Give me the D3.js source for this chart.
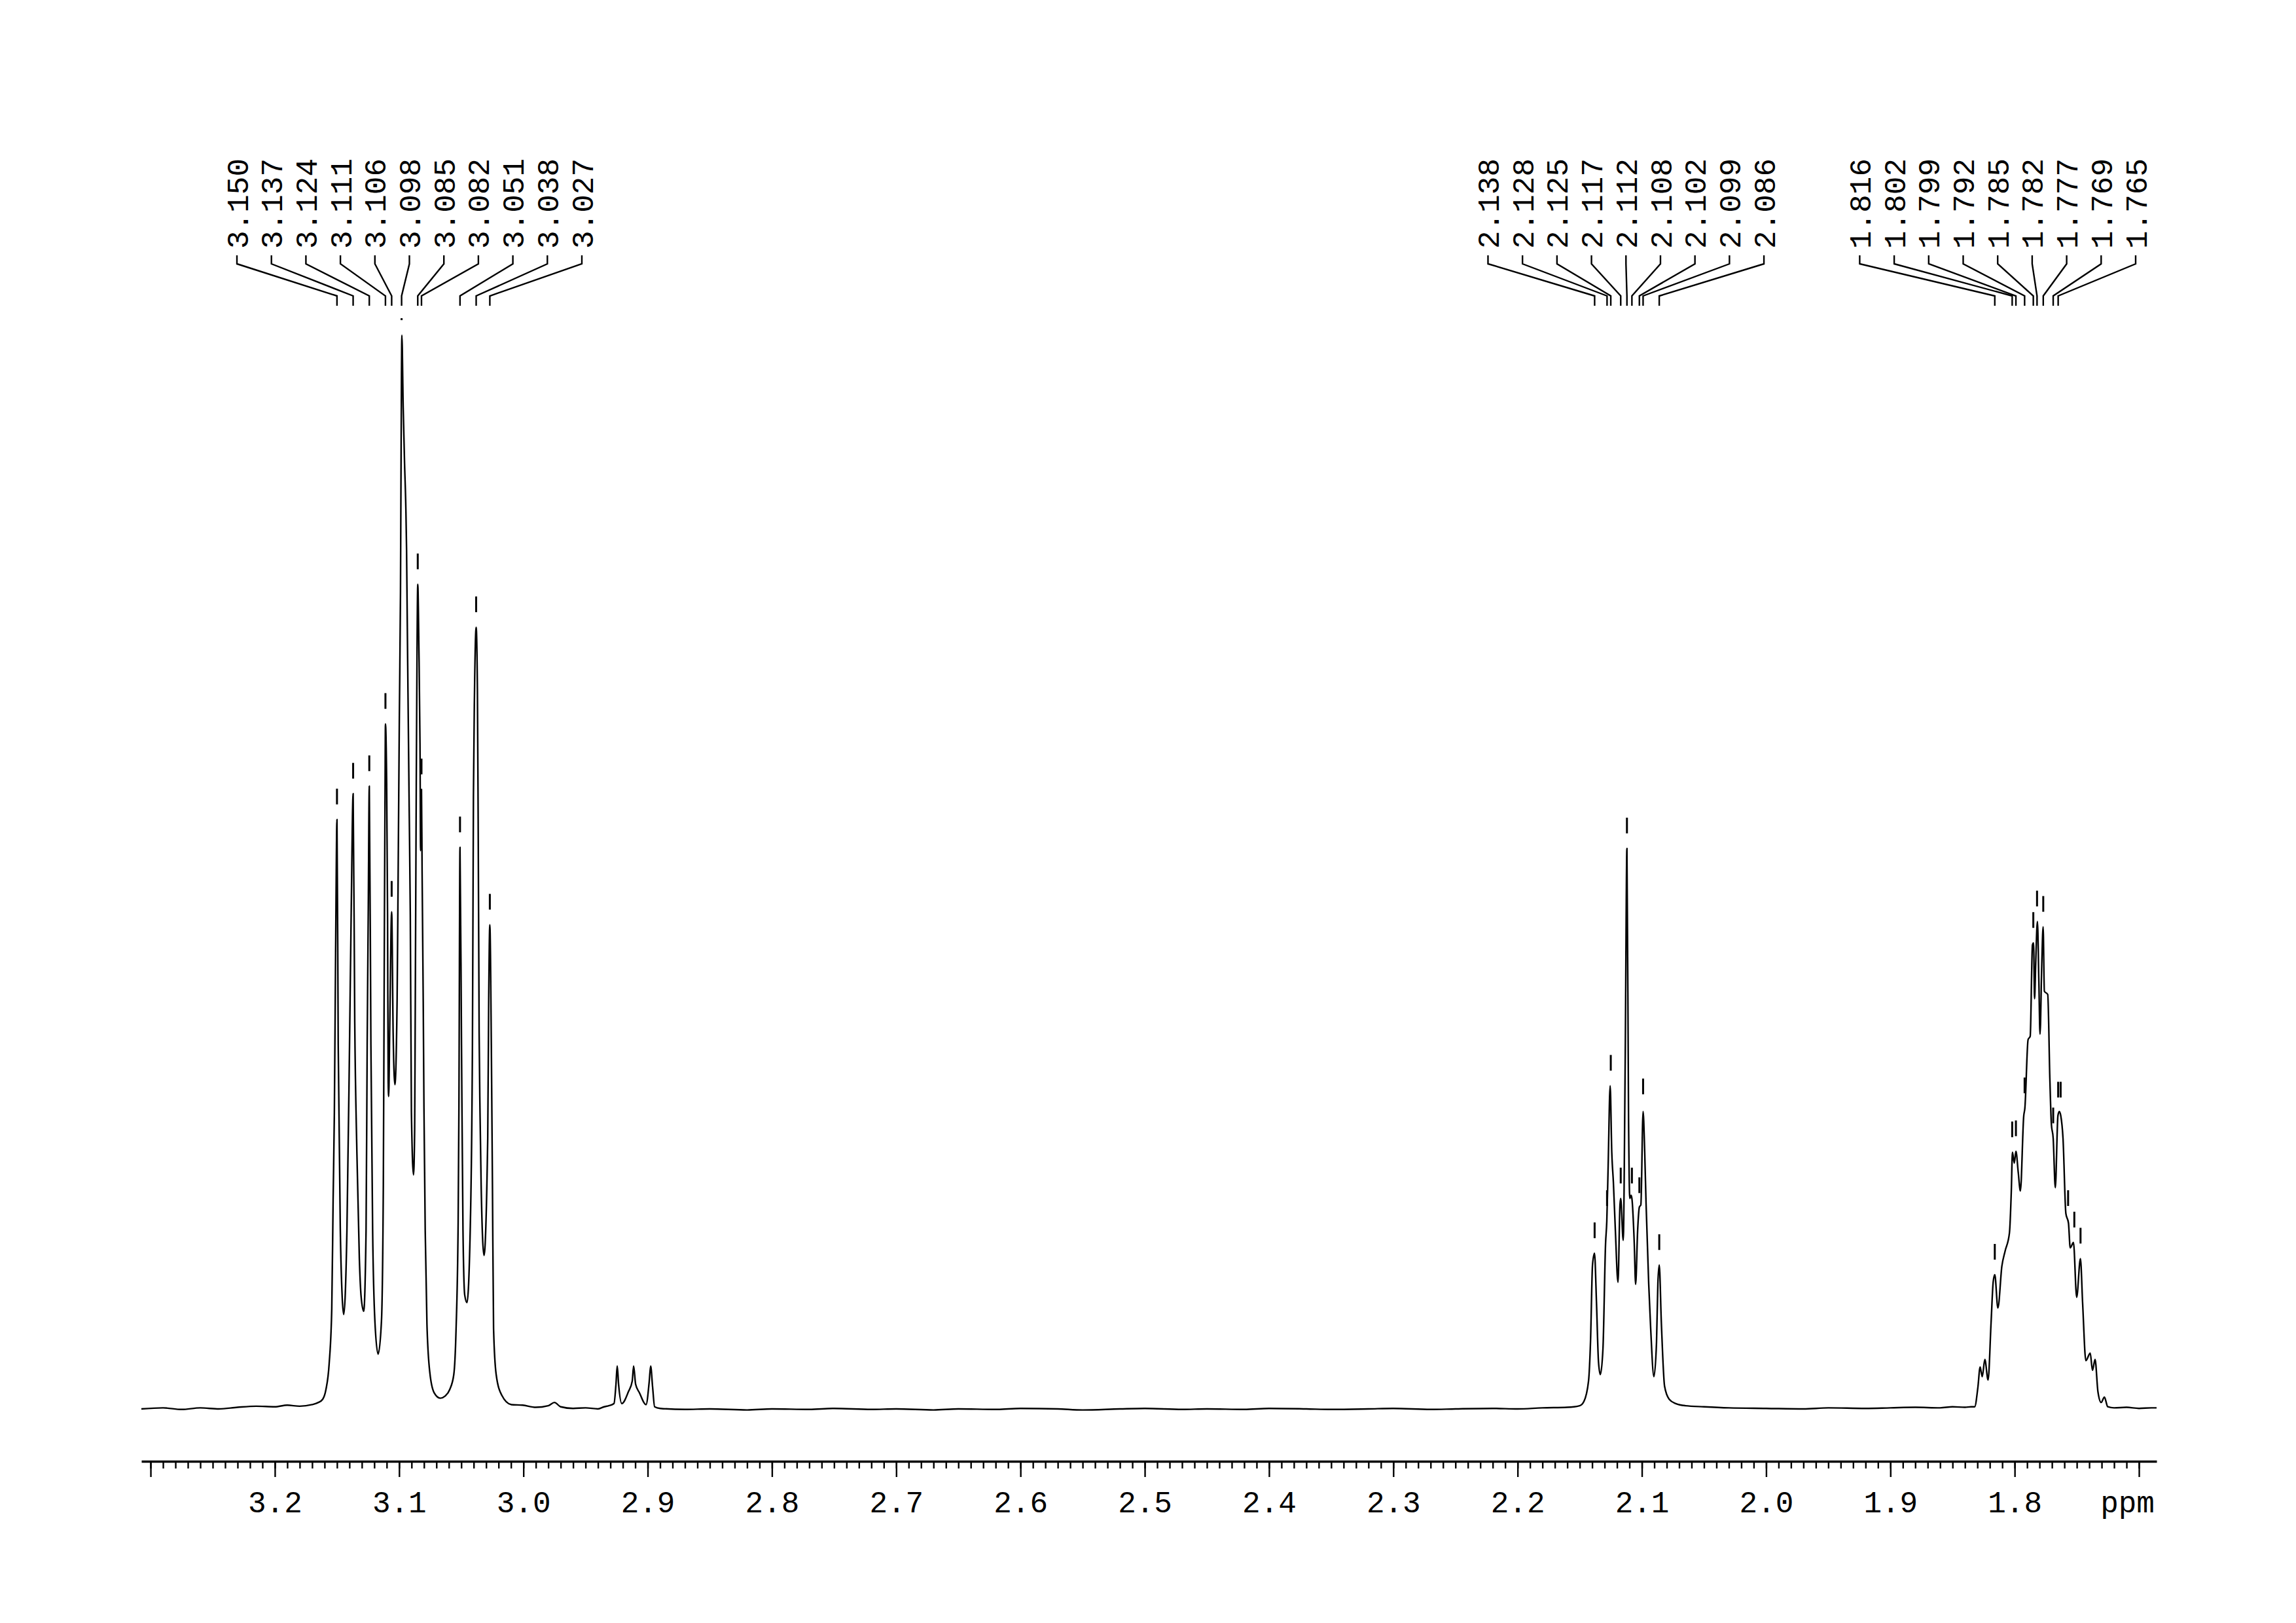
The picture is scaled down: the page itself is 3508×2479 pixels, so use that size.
<!DOCTYPE html>
<html>
<head>
<meta charset="utf-8">
<script src="https://cdn.jsdelivr.net/npm/d3@7"></script>
<style>
  html, body { margin: 0; background: #fff; }
</style>
</head>
<body>
<svg id="chart" width="3508" height="2479"></svg>
<script>

// ---- data: [ppm, intensity], tallest peak = 100 ----

var baseLeft = [
  [3.3074, 0.0], [3.29, 0.1], [3.275, -0.05], [3.26, 0.1], [3.245, 0.0],
  [3.23, 0.15], [3.215, 0.25], [3.2, 0.2], [3.19, 0.35], [3.18, 0.25],
  [3.17, 0.4], [3.165, 0.6]
];

var multipletA = [
  [3.1615, 0.9], [3.1589, 1.8], [3.1563, 4.2], [3.1542, 9.3], [3.1531, 19.5],
  [3.1521, 27.6], [3.1511, 42.5], [3.1500, 54.9], [3.1490, 33.9], [3.1473, 16.6],
  [3.1458, 10.4], [3.1446, 8.8], [3.1420, 16.6], [3.1399, 33.9], [3.1385, 46.8],
  [3.1370, 57.3], [3.1357, 36.0], [3.1340, 24.0], [3.1320, 14.0], [3.1306, 10.5],
  [3.1285, 9.1], [3.1266, 16.6], [3.1257, 33.9], [3.1248, 46.8], [3.1240, 58.0],
  [3.1227, 33.9], [3.1213, 16.6], [3.1195, 8.2], [3.1169, 5.1], [3.1142, 8.2],
  [3.1127, 20.9], [3.1118, 46.0], [3.1113, 58.0], [3.1110, 63.8], [3.1100, 58.0],
  [3.1093, 46.0], [3.1088, 30.5], [3.1084, 29.1], [3.1076, 35.0], [3.1060, 46.3],
  [3.1048, 35.0], [3.1034, 30.2], [3.1016, 38.2], [3.1007, 51.0], [3.0998, 64.6],
  [3.0989, 76.0], [3.0981, 96.3], [3.0978, 100], [3.0967, 93.2], [3.0956, 88.0],
  [3.0946, 84.0], [3.0940, 80.0], [3.0935, 74.0], [3.0928, 66.0], [3.0919, 56.0],
  [3.0910, 46.0], [3.0901, 27.6], [3.0884, 21.8], [3.0875, 26.0], [3.0871, 35.0],
  [3.0862, 58.0], [3.0855, 72.0], [3.0850, 76.8], [3.0841, 71.0], [3.0832, 62.0],
  [3.0827, 52.0], [3.0820, 57.7], [3.0815, 50.0], [3.0806, 38.0], [3.0800, 28.0],
  [3.0790, 16.6], [3.0776, 7.9], [3.0753, 3.4], [3.0718, 1.5], [3.0669, 1.0],
  [3.0630, 1.2], [3.0593, 1.8], [3.0560, 3.2], [3.0542, 7.3], [3.0525, 17.4],
  [3.0519, 27.6], [3.0510, 52.3], [3.0498, 33.9], [3.0486, 16.6], [3.0472, 10.6],
  [3.0454, 9.9], [3.0428, 16.6], [3.0410, 33.9], [3.0402, 57.0], [3.0393, 67.0],
  [3.0380, 72.8], [3.0370, 67.0], [3.0364, 55.0], [3.0356, 35.0], [3.0349, 27.6],
  [3.0340, 20.9], [3.0317, 14.3], [3.0287, 25.2], [3.0279, 38.2], [3.0270, 45.1],
  [3.0258, 33.9], [3.0249, 20.9], [3.0240, 7.5], [3.0219, 3.2], [3.0175, 1.3],
  [3.0096, 0.4]
];

var baseMid1 = [
  [3.0006, 0.35], [2.99, 0.15], [2.98, 0.3], [2.975, 0.6], [2.97, 0.2],
  [2.96, 0.05], [2.95, 0.1], [2.94, 0.0], [2.935, 0.2]
];

var tripletB = [
  [2.9313, 0.3], [2.9271, 0.5], [2.9255, 2.3], [2.9245, 4.0], [2.9234, 2.3],
  [2.9208, 0.5], [2.9155, 1.6], [2.9124, 2.6], [2.9113, 4.0], [2.9097, 2.3],
  [2.9066, 1.5], [2.9013, 0.4], [2.8987, 2.6], [2.8976, 4.0], [2.8960, 2.0],
  [2.8944, 0.2]
];

var baseMid2 = [
  [2.89, 0.05], [2.87, -0.05], [2.85, 0.0], [2.82, -0.1], [2.8, 0.0],
  [2.77, -0.05], [2.75, 0.05], [2.72, -0.05], [2.7, 0.0], [2.67, -0.1],
  [2.65, 0.0], [2.62, -0.05], [2.6, 0.05], [2.57, 0.0], [2.55, -0.1],
  [2.52, 0.0], [2.5, 0.05], [2.47, -0.05], [2.45, 0.0], [2.42, -0.05],
  [2.4, 0.05], [2.37, 0.0], [2.35, -0.05], [2.32, 0.0], [2.3, 0.05],
  [2.27, -0.05], [2.25, 0.0], [2.22, 0.05], [2.2, 0.0], [2.18, 0.1],
  [2.16, 0.15], [2.15, 0.3]
];

var multipletC = [
  [2.1466, 0.7], [2.1429, 2.6], [2.1413, 6.3], [2.1397, 13.4], [2.1381, 14.5],
  [2.1365, 9.9], [2.1349, 4.4], [2.1334, 3.2], [2.1313, 5.6], [2.1292, 15.4],
  [2.1282, 17.5], [2.1271, 22.7], [2.1255, 30.1], [2.1242, 23.9], [2.1229, 21.1],
  [2.1213, 16.6], [2.1192, 11.8], [2.1176, 19.0], [2.1170, 19.6], [2.1150, 15.7],
  [2.1134, 32.4], [2.1120, 52.2], [2.1107, 27.0], [2.1097, 19.6], [2.1087, 19.9],
  [2.1080, 19.6], [2.1061, 15.4], [2.1050, 11.6], [2.1034, 16.6], [2.1020, 18.8],
  [2.1008, 19.0], [2.0990, 27.7], [2.0977, 23.9], [2.0966, 19.1], [2.0945, 11.7],
  [2.0929, 7.5], [2.0903, 3.0], [2.0882, 6.2], [2.0871, 11.7], [2.0860, 13.4],
  [2.0843, 8.0], [2.0817, 2.1], [2.0780, 0.9], [2.0727, 0.5]
];

var baseMid3 = [
  [2.065, 0.3], [2.05, 0.2], [2.03, 0.1], [2.0, 0.05], [1.97, 0.0],
  [1.95, 0.1], [1.92, 0.05], [1.9, 0.1], [1.88, 0.15], [1.86, 0.1],
  [1.85, 0.2], [1.84, 0.15], [1.835, 0.2]
];

var multipletD = [
  [1.8322, 0.2], [1.8296, 2.0], [1.8278, 3.9], [1.8261, 3.0], [1.8240, 4.6],
  [1.8214, 2.7], [1.8190, 8.0], [1.8173, 11.8], [1.8160, 12.5], [1.8135, 9.4],
  [1.8103, 13.3], [1.8077, 14.7], [1.8042, 16.4], [1.8027, 20.3], [1.8018, 23.9],
  [1.8003, 22.9], [1.7990, 24.0], [1.7971, 22.0], [1.7954, 20.3], [1.7927, 27.3],
  [1.7918, 28.0], [1.7892, 34.4], [1.7875, 34.7], [1.7857, 43.2], [1.7848, 43.4],
  [1.7840, 38.2], [1.7831, 41.4], [1.7817, 45.4], [1.7805, 39.6], [1.7796, 34.9],
  [1.7782, 41.4], [1.7771, 44.9], [1.7761, 38.9], [1.7734, 38.6], [1.7717, 30.8],
  [1.7705, 26.6], [1.7690, 25.2], [1.7673, 20.6], [1.7652, 27.3], [1.7641, 27.7],
  [1.7629, 27.3], [1.7611, 25.2], [1.7588, 18.2], [1.7567, 17.3], [1.7553, 15.0],
  [1.7527, 15.5], [1.7501, 10.4], [1.7471, 14.0], [1.7453, 9.8], [1.7427, 4.5],
  [1.7392, 5.2], [1.7374, 3.6], [1.7353, 4.6], [1.7330, 1.6], [1.7304, 0.6],
  [1.7278, 1.1], [1.7251, 0.2]
];

var baseRight = [
  [1.72, 0.1], [1.71, 0.15], [1.70, 0.05], [1.69, 0.1], [1.6858, 0.1]
];

// picked peaks (labelled) and their heights
var peaksA = [3.150, 3.137, 3.124, 3.111, 3.106, 3.098, 3.085, 3.082, 3.051, 3.038, 3.027];
var heightsA = [54.9, 57.3, 58.0, 63.8, 46.3, 100, 76.8, 57.7, 52.3, 72.8, 45.1];
var peaksC = [2.138, 2.128, 2.125, 2.117, 2.112, 2.108, 2.102, 2.099, 2.086];
var heightsC = [14.5, 17.5, 30.1, 19.6, 52.2, 19.6, 18.7, 27.9, 13.4];
var peaksD = [1.816, 1.802, 1.799, 1.792, 1.785, 1.782, 1.777, 1.769, 1.765];
var heightsD = [12.5, 23.9, 24.0, 28.0, 43.4, 45.4, 44.9, 25.2, 27.6];
// picked but not labelled
var peaksExtra = [1.763, 1.757, 1.752, 1.747];
var heightsExtra = [27.6, 17.5, 15.5, 14.0];

// axis
var majorTicks = [3.3, 3.2, 3.1, 3.0, 2.9, 2.8, 2.7, 2.6, 2.5, 2.4, 2.3, 2.2, 2.1, 2.0, 1.9, 1.8, 1.7];
var tickLabels = ["", "3.2", "3.1", "3.0", "2.9", "2.8", "2.7", "2.6", "2.5", "2.4", "2.3", "2.2", "2.1", "2.0", "1.9", "1.8", "ppm"];

// ---- drawing ----

var FONT = "'Liberation Mono', 'DejaVu Sans Mono', monospace";
var svg = d3.select("#chart");

var x = d3.scaleLinear().domain([3.3074, 1.6858]).range([216, 3295]);
var y = d3.scaleLinear().domain([0, 100]).range([2152, 512]);

var trace = [].concat(baseLeft, multipletA, baseMid1, tripletB, baseMid2,
                      multipletC, baseMid3, multipletD, baseRight);

var line = d3.line()
  .x(function(d) { return x(d[0]); })
  .y(function(d) { return y(d[1]); })
  .curve(d3.curveMonotoneX);

svg.append("path")
  .datum(trace)
  .attr("d", line)
  .style("fill", "none")
  .style("stroke", "#000")
  .style("stroke-width", "2.4px")
  .style("stroke-linejoin", "round");

// peak markers: short bars above each picked peak, clipped at the plot top
var markers = [];
[[peaksA, heightsA], [peaksC, heightsC], [peaksD, heightsD], [peaksExtra, heightsExtra]]
  .forEach(function(g) {
    g[0].forEach(function(p, i) { markers.push({ppm: p, h: g[1][i]}); });
  });

svg.append("g").selectAll("line")
  .data(markers)
  .enter().append("line")
  .attr("x1", function(d) { return x(d.ppm); })
  .attr("x2", function(d) { return x(d.ppm); })
  .attr("y1", function(d) { return Math.max(y(d.h) - 47, 486); })
  .attr("y2", function(d) { return Math.max(y(d.h) - 23, 489); })
  .style("stroke", "#000")
  .style("stroke-width", "3px");

// peak labels with bent leader lines
var labelStep = 52.7, labelRight = 3263;
var fmt = d3.format(".3f");

function drawLabels(peaks) {
  var xs = peaks.map(function(p) { return x(p); });
  var center = d3.mean(xs);
  var start = center - (peaks.length - 1) / 2 * labelStep;
  var end = start + (peaks.length - 1) * labelStep;
  if (end > labelRight) start -= end - labelRight;

  var g = svg.append("g");
  peaks.forEach(function(p, i) {
    var xl = start + i * labelStep;
    g.append("path")
      .attr("d", "M" + xl + ",390V403L" + xs[i] + ",452V467")
      .style("fill", "none")
      .style("stroke", "#000")
      .style("stroke-width", "2.4px");
    g.append("text")
      .attr("transform", "translate(" + xl + ",380) rotate(-90)")
      .attr("dy", "0.36em")
      .attr("text-anchor", "start")
      .style("font", "46px " + FONT)
      .style("fill", "#000")
      .text(fmt(p));
  });
}

drawLabels(peaksA);
drawLabels(peaksC);
drawLabels(peaksD);

// x axis: minor ticks every 0.01 ppm, major every 0.1 ppm
var axisY = 2232;
var minorTicks = d3.range(170, 331).map(function(v) { return v / 100; });

var minorAxis = svg.append("g")
  .attr("transform", "translate(0," + axisY + ")")
  .call(d3.axisBottom(x).tickValues(minorTicks).tickSize(11).tickSizeOuter(0).tickFormat(""));

var majorAxis = svg.append("g")
  .attr("transform", "translate(0," + axisY + ")")
  .call(d3.axisBottom(x).tickValues(majorTicks).tickSize(24).tickSizeOuter(0).tickPadding(21)
    .tickFormat(function(d, i) { return tickLabels[i]; }));

minorAxis.select(".domain").style("stroke-width", "3.5px");
majorAxis.select(".domain").remove();
svg.selectAll(".tick line").style("stroke", "#000").style("stroke-width", "2.4px");
majorAxis.selectAll("text")
  .style("font", "46px " + FONT)
  .style("fill", "#000")
  .attr("dx", function(d, i) { return tickLabels[i] === "ppm" ? -18 : 0; });

</script>
</body>
</html>
